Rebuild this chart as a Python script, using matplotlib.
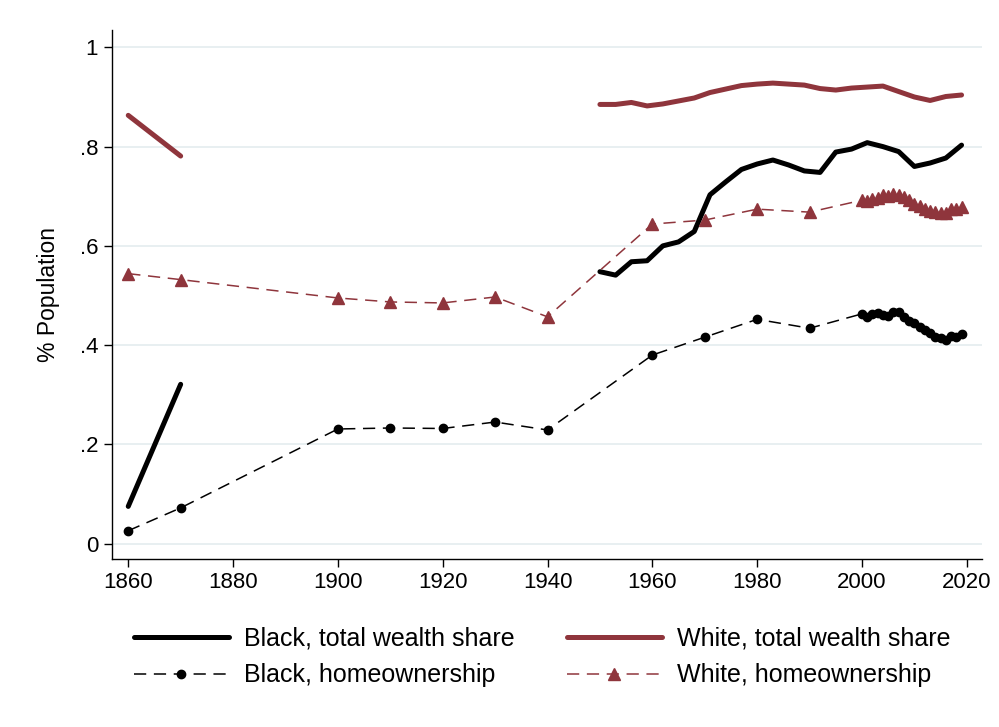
import numpy as np
import matplotlib
matplotlib.use("Agg")
import matplotlib.pyplot as plt

plt.rcParams['font.family'] = ['Liberation Sans', 'DejaVu Sans']

# ---- Data ----
wealth_years_early = [1860, 1870]
wealth_years_late = [1950, 1953, 1956, 1959, 1962, 1965, 1968, 1971, 1974, 1977, 1980,
                     1983, 1986, 1989, 1992, 1995, 1998, 2001, 2004, 2007, 2010, 2013,
                     2016, 2019]
black_wealth_early = [0.075, 0.321]
black_wealth_late = [0.548, 0.541, 0.568, 0.570, 0.600, 0.608, 0.629, 0.703, 0.729, 0.754,
                     0.765, 0.773, 0.763, 0.751, 0.748, 0.789, 0.795, 0.808, 0.800, 0.790,
                     0.760, 0.767, 0.777, 0.803]
white_wealth_early = [0.863, 0.781]
white_wealth_late = [0.885, 0.885, 0.889, 0.882, 0.886, 0.892, 0.898, 0.909, 0.916, 0.923,
                     0.926, 0.928, 0.926, 0.924, 0.917, 0.914, 0.918, 0.920, 0.922, 0.911,
                     0.900, 0.893, 0.901, 0.904]

home_years = [1860, 1870, 1900, 1910, 1920, 1930, 1940, 1960, 1970, 1980, 1990,
              2000, 2001, 2002, 2003, 2004, 2005, 2006, 2007, 2008, 2009,
              2010, 2011, 2012, 2013, 2014, 2015, 2016, 2017, 2018, 2019]
black_home = [0.026, 0.072, 0.231, 0.233, 0.232, 0.245, 0.229, 0.380, 0.416, 0.452, 0.434,
              0.463, 0.457, 0.463, 0.464, 0.461, 0.459, 0.466, 0.467, 0.457, 0.449,
              0.444, 0.437, 0.430, 0.424, 0.417, 0.414, 0.410, 0.419, 0.417, 0.422]
white_home = [0.544, 0.532, 0.495, 0.487, 0.485, 0.497, 0.457, 0.644, 0.652, 0.674, 0.668,
              0.692, 0.690, 0.695, 0.697, 0.702, 0.700, 0.704, 0.702, 0.698, 0.692,
              0.685, 0.680, 0.675, 0.670, 0.668, 0.667, 0.667, 0.675, 0.675, 0.678]

x_ticks = [1860, 1880, 1900, 1920, 1940, 1960, 1980, 2000, 2020]
y_ticks = [0, 0.2, 0.4, 0.6, 0.8, 1.0]
y_tick_labels = ['0', '.2', '.4', '.6', '.8', '1']

labels = ['Black, total wealth share', 'White, total wealth share',
          'Black, homeownership', 'White, homeownership']

# ---- Style ----
BLACK = '#000000'
RED = '#8f353c'
GRID = '#e6eef0'

fig = plt.figure(figsize=(9.99, 7.27), dpi=100)
ax = fig.add_axes([112/999, 1 - 559/727, (982-112)/999, (559-30)/727])

for y in y_ticks:
    ax.axhline(y, color=GRID, lw=1.3, zorder=0)

lw_thick = 3.6
lw_thin = 1.1
dash = (8, 5)

bw1, = ax.plot(wealth_years_early, black_wealth_early, color=BLACK, lw=lw_thick,
               solid_capstyle='round', zorder=3)
ax.plot(wealth_years_late, black_wealth_late, color=BLACK, lw=lw_thick,
        solid_capstyle='round', solid_joinstyle='round', zorder=3)
ww1, = ax.plot(wealth_years_early, white_wealth_early, color=RED, lw=lw_thick,
               solid_capstyle='round', zorder=3)
ax.plot(wealth_years_late, white_wealth_late, color=RED, lw=lw_thick,
        solid_capstyle='round', solid_joinstyle='round', zorder=3)

bh, = ax.plot(home_years, black_home, color=BLACK, lw=lw_thin, marker='o',
              markersize=6.0, dashes=dash, zorder=4)
wh, = ax.plot(home_years, white_home, color=RED, lw=lw_thin, marker='^',
              markersize=8.0, dashes=dash, zorder=4)

ax.set_xlim(1856.9, 2022.9)
ax.set_ylim(-0.031, 1.035)
ax.set_xticks(x_ticks)
ax.set_yticks(y_ticks)
ax.set_yticklabels(y_tick_labels)
ax.tick_params(axis='both', labelsize=16, direction='out', length=6, width=1.0,
               color='black')
ax.tick_params(axis='y', pad=4)
ax.tick_params(axis='x', pad=3)
for s in ['top', 'right']:
    ax.spines[s].set_visible(False)
for s in ['left', 'bottom']:
    ax.spines[s].set_linewidth(1.0)
    ax.spines[s].set_color('black')
ax.set_ylabel('% Population', fontsize=16.5, labelpad=14)

# legend filled column-wise: order so that rows read wealth / homeownership
handles = [bw1, bh, ww1, wh]
leg_labels = [labels[0], labels[2], labels[1], labels[3]]
leg = fig.legend(handles, leg_labels, loc='center',
                 bbox_to_anchor=(542/999, 1 - 657/727), ncol=2, frameon=False,
                 fontsize=18, handlelength=3.8, handletextpad=0.6,
                 columnspacing=2.1, labelspacing=0.5, numpoints=1)

fig.savefig('out.png', dpi=100, facecolor='white')
